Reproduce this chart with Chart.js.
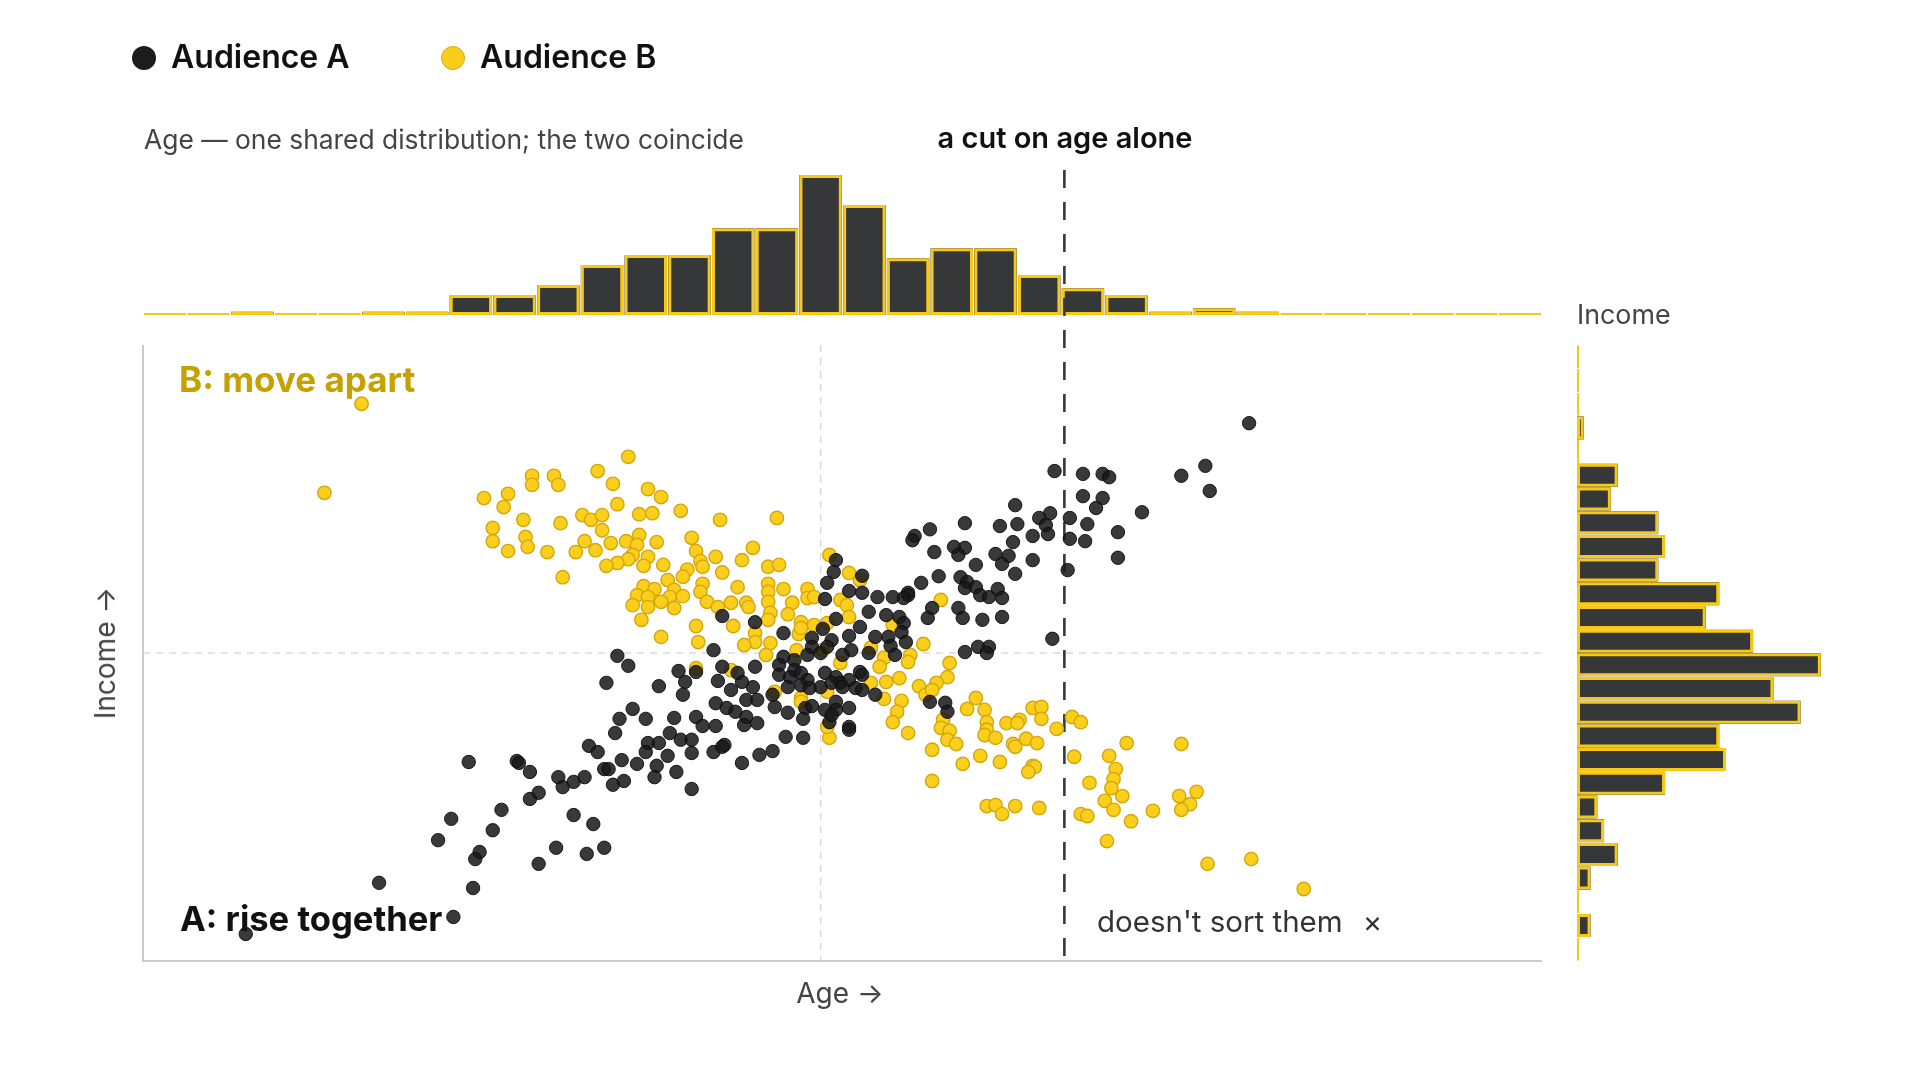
<!DOCTYPE html>
<html>
<head>
<meta charset="utf-8">
<title>Audience A vs B — age and income</title>
<script src="https://cdn.jsdelivr.net/npm/chart.js@4.4.1/dist/chart.umd.min.js"></script>
<style>
  html, body { margin: 0; padding: 0; background: #fff; }
  body { width: 1920px; height: 1080px; position: relative; overflow: hidden;
         font-family: Inter, "Noto Sans", sans-serif; }
  canvas { position: absolute; left: 0; top: 0; }
  .lbl { position: absolute; white-space: nowrap; line-height: 1; transform: translateY(-50%); }
  .dot { position: absolute; width: 24px; height: 24px; border-radius: 50%; transform: translate(-50%, -50%); box-sizing: border-box; }
</style>
</head>
<body>
<canvas id="topHist" width="1920" height="1080"></canvas>
<canvas id="rightHist" width="1920" height="1080"></canvas>
<canvas id="scatter" width="1920" height="1080"></canvas>

<!-- legend -->
<div class="dot" style="left:144px; top:58px; background:#1c1c1e;"></div>
<div class="lbl" style="left:171px; top:57px; font-size:32px; font-weight:600; color:#111;">Audience A</div>
<div class="dot" style="left:453px; top:58px; background:#fbcd1b; border:1.5px solid #d6a90c;"></div>
<div class="lbl" style="left:480px; top:57px; font-size:32px; font-weight:600; color:#111;">Audience B</div>

<!-- annotations -->
<div class="lbl" style="left:144px; top:139px; font-size:26.4px; color:#444;">Age — one shared distribution; the two coincide</div>
<div class="lbl" style="left:1065px; top:137px; font-size:29px; font-weight:600; color:#111; transform:translate(-50%,-50%);">a cut on age alone</div>
<div class="lbl" style="left:1577px; top:314px; font-size:26.8px; color:#444;">Income</div>
<div class="lbl" style="left:179px; top:379px; font-size:35px; font-weight:700; color:#c6a100;">B: move apart</div>
<div class="lbl" style="left:180px; top:918px; font-size:34.6px; font-weight:700; color:#111;">A: rise together</div>
<div class="lbl" style="left:1097px; top:922px; font-size:29.5px; color:#333;">doesn't sort them<span style="margin-left:20px;">×</span></div>
<div class="lbl" style="left:840px; top:993px; font-size:28px; color:#444; transform:translate(-50%,-50%);">Age →</div>
<div class="lbl" style="left:105px; top:653px; font-size:28px; color:#444; transform:translate(-50%,-50%) rotate(-90deg);">Income →</div>

<script>
// ============================================
// Data
// ============================================

// age histogram: bin starts (2-year bins) and counts; A and B coincide
const AGE_BIN_STARTS = [16, 18, 20, 22, 24, 26, 28, 30, 32, 34, 36, 38, 40, 42, 44, 46,
                        48, 50, 52, 54, 56, 58, 60, 62, 64, 66, 68, 70, 72, 74, 76, 78];
const AGE_COUNTS = [0, 0, 1, 0, 0, 1, 1, 6, 6, 9, 15, 18, 18, 26, 26, 42,
                    33, 17, 20, 20, 12, 8, 6, 1, 2, 1, 0, 0, 0, 0, 0, 0];

// income histogram: bin starts (5k bins), listed top (high) to bottom (low)
const INCOME_BIN_STARTS = [145, 140, 135, 130, 125, 120, 115, 110, 105, 100, 95, 90, 85,
                           80, 75, 70, 65, 60, 55, 50, 45, 40, 35, 30, 25, 20];
const INCOME_COUNTS = [0, 0, 0, 1, 0, 6, 5, 12, 13, 12, 21, 19, 26,
                       36, 29, 33, 21, 22, 13, 3, 4, 6, 2, 0, 2, 0];

const AGE_MEAN = 47;
const INCOME_MEAN = 85;
const AGE_CUT = 58.15;

// [age, income] per person
const AUDIENCE_A = [
  [66.6,133.5],[64.6,124.5],[63.5,122.4],[64.8,119.2],[61.7,114.7],[57.7,123.4],[59.0,122.8],[59.9,122.8],
  [60.2,122.1],[59.0,118.1],[59.9,117.7],[59.6,115.6],[55.9,116.2],[57.5,114.5],[57.0,113.5],[57.3,112.0],
  [58.4,113.5],[59.2,112.2],[60.6,110.5],[58.4,109.1],[59.1,108.6],[57.4,110.1],[56.7,109.7],[56.0,112.2],
  [55.2,111.8],[53.6,112.4],[52.0,111.1],[51.3,109.7],[52.2,106.3],[53.1,107.4],[53.6,107.2],[53.3,105.7],
  [55.8,108.4],[55.0,105.9],[55.6,105.5],[55.3,103.8],[54.1,103.6],[56.7,104.6],[55.9,101.7],[58.3,102.5],
  [60.6,105.1],[52.4,101.2],[51.6,99.8],[53.4,101.0],[53.7,100.0],[53.6,98.7],[54.1,98.9],[51.0,97.7],
  [54.3,97.2],[55.1,98.5],[55.3,96.6],[51.2,108.8],[54.7,96.8],[53.3,94.5],[53.5,92.4],[52.1,94.5],
  [51.9,92.4],[54.4,92.0],[55.3,92.6],[57.6,88.0],[53.6,85.2],[54.2,86.3],[54.7,86.3],[54.6,85.0],
  [51.0,97.2],[50.8,96.6],[50.3,96.8],[49.6,96.8],[49.2,93.7],[50.0,93.0],[50.6,92.6],[50.8,91.3],
  [50.7,89.4],[50.9,87.3],[50.1,88.4],[50.2,86.5],[50.4,84.6],[49.5,88.4],[49.2,85.0],[48.9,101.3],
  [47.7,104.6],[47.6,102.1],[47.3,99.8],[48.3,98.1],[48.9,97.7],[47.2,96.4],[47.7,92.2],[48.3,88.6],
  [48.8,90.5],[48.4,85.6],[48.0,84.6],[47.1,90.1],[46.6,88.2],[47.5,87.7],[45.3,89.2],[44.0,91.5],
  [45.3,84.2],[45.1,82.5],[45.8,83.5],[45.8,81.4],[46.4,84.6],[46.6,86.3],[47.0,85.0],[47.3,86.3],
  [44.0,82.1],[45.1,80.4],[45.6,79.9],[46.1,80.8],[46.4,79.3],[47.2,80.8],[47.7,79.9],[47.9,78.7],
  [48.3,79.3],[48.8,81.0],[48.9,80.4],[45.5,77.8],[46.1,78.2],[46.5,77.6],[47.0,77.8],[47.5,78.7],
  [48.0,77.8],[48.6,77.6],[48.9,77.2],[49.5,76.2],[43.9,77.8],[43.4,78.9],[44.8,76.2],[43.6,75.1],
  [44.1,75.1],[44.9,73.6],[45.5,72.4],[46.3,73.4],[46.6,73.8],[47.2,73.0],[47.7,74.7],[47.7,73.0],
  [48.3,73.4],[46.2,71.1],[47.4,70.4],[47.5,71.9],[48.3,69.4],[45.4,67.3],[46.2,67.1],[43.6,71.5],
  [44.1,70.2],[43.5,69.8],[44.2,63.5],[44.8,64.3],[43.4,61.8],[52.0,74.7],[52.7,74.5],[52.8,72.6],
  [48.3,68.8],[42.5,92.8],[37.7,84.4],[42.1,85.6],[38.2,82.3],[37.2,78.7],[39.6,78.0],[40.5,81.2],
  [40.8,78.9],[40.7,76.2],[41.3,81.0],[42.5,82.1],[43.2,80.8],[42.3,79.1],[42.9,77.2],
  [20.7,25.7],[30.2,29.3],[26.8,36.5],[31.1,35.4],[29.5,45.5],[30.1,50.0],[30.9,62.0],[31.4,43.0],
  [31.2,41.5],[32.0,47.6],[32.4,51.9],[34.1,40.5],[34.9,43.9],[36.3,42.6],[37.1,43.9],[35.7,50.8],
  [36.6,48.9],[33.7,54.2],[34.1,55.5],[33.1,62.2],[33.2,61.8],[33.7,59.9],[35.0,58.8],[35.2,56.7],
  [35.7,57.8],[36.2,58.8],[36.4,65.4],[36.8,64.1],[37.1,60.5],[37.3,60.5],[37.5,57.2],[38.0,58.0],
  [37.9,62.4],[38.6,61.6],[37.6,68.1],[37.8,71.1],[38.4,73.2],[39.0,71.1],[40.3,71.3],[40.1,68.1],
  [39.1,66.0],[39.6,66.0],[39.0,64.1],[40.0,63.3],[39.5,61.2],[39.4,58.8],[40.4,59.9],[40.6,66.7],
  [41.1,66.7],[41.1,63.9],[41.1,56.3],[41.3,71.5],[41.6,69.6],[42.2,69.6],[42.1,64.1],[42.6,65.6],
  [42.5,65.2],[42.2,74.4],[42.7,73.4],[43.1,72.6]
];

const AUDIENCE_B = [
  [26.0,137.6],[24.3,118.8],[31.6,117.7],[32.7,118.6],[32.5,115.8],[33.8,122.4],[33.8,120.5],[34.8,122.4],
  [35.0,120.5],[36.8,123.4],[38.2,126.4],[37.5,120.7],[39.1,119.6],[39.7,117.9],[33.4,113.1],[32.0,111.4],
  [32.0,108.6],[33.5,109.5],[33.6,107.4],[32.7,106.5],[34.5,106.3],[35.1,112.4],[36.1,114.1],[36.5,113.1],
  [37.0,114.1],[37.7,116.4],[37.0,110.9],[36.2,108.6],[36.7,106.7],[35.8,106.3],[37.4,108.2],[35.2,101.0],
  [38.7,114.3],[39.3,114.5],[40.6,115.0],[42.4,113.1],[45.0,113.5],[38.7,109.9],[38.1,108.6],[38.6,107.8],
  [39.5,108.4],[38.4,105.7],[39.1,105.3],[38.2,104.8],[37.7,104.0],[37.2,103.4],[38.9,103.4],[39.8,103.6],
  [41.1,109.3],[41.3,106.5],[41.5,104.4],[41.6,103.2],[42.2,105.3],[43.4,104.6],[43.9,107.2],[40.9,102.6],
  [40.7,101.1],[40.0,100.4],[42.5,102.0],[44.6,103.2],[45.1,103.6],[38.9,99.1],[39.4,98.5],[38.6,97.2],
  [39.1,96.8],[40.3,98.3],[40.1,96.8],[40.7,97.0],[39.7,95.8],[38.4,95.1],[39.1,94.7],[40.3,94.5],
  [41.6,99.6],[41.5,97.9],[41.8,95.8],[42.3,94.7],[42.9,95.6],[43.2,98.9],[43.6,95.6],[43.7,94.7],
  [38.8,92.0],[39.7,88.4],[41.3,90.7],[41.4,87.3],[43.0,90.7],[44.6,99.6],[44.6,97.9],[44.6,95.8],
  [44.7,93.5],[44.6,92.0],[45.3,98.5],[45.7,95.6],[45.5,93.2],[46.4,98.5],[46.4,96.6],[46.1,91.5],
  [46.0,89.0],[44.0,89.2],[44.0,87.3],[43.5,86.7],[44.7,87.1],[44.5,84.6],[41.3,81.8],[42.9,81.4],
  [44.9,76.8],[46.1,75.5],[47.4,105.7],[48.3,101.9],[48.8,100.4],[47.9,96.2],[48.2,95.1],[48.3,92.6],
  [47.3,91.3],[46.7,96.8],[46.7,90.9],[46.1,90.3],[52.5,96.2],[51.7,86.9],[50.3,90.9],[49.3,86.1],
  [49.9,84.0],[51.1,84.6],[51.0,83.1],[49.7,82.1],[52.9,82.9],[52.8,79.9],[52.3,78.7],[51.5,78.0],
  [51.8,76.2],[52.1,77.2],[50.6,79.7],[50.0,78.9],[49.3,78.7],[49.9,75.3],[50.7,74.9],[50.5,72.6],
  [50.3,70.4],[51.0,68.1],[52.6,70.9],[52.5,69.2],[52.9,68.6],[52.8,66.7],[53.2,65.8],[52.1,64.6],
  [53.5,61.6],[54.3,63.3],[55.2,62.0],[54.1,75.5],[53.7,73.2],[54.5,73.0],[54.6,70.4],[54.6,68.8],
  [54.5,67.7],[55.0,67.1],[55.5,70.2],[56.1,70.9],[56.0,70.2],[56.7,73.4],[57.1,73.6],[57.1,71.1],
  [56.4,66.9],[56.9,66.0],[55.8,65.8],[55.9,65.2],[57.8,69.0],[58.5,71.5],[58.6,63.1],[56.7,61.2],
  [47.4,67.1],[47.3,69.4],[46.1,74.7],[47.3,76.8],[47.9,82.9],[47.1,85.6],[45.9,85.6],
  [58.9,70.4],[59.3,57.6],[60.2,63.3],[60.5,60.5],[60.4,58.4],[60.3,56.5],[60.0,53.8],[60.8,54.8],
  [60.4,51.9],[61.0,66.0],[58.9,51.0],[59.2,50.6],[61.2,49.5],[62.2,51.7],[60.1,45.3],[63.5,65.8],
  [63.4,54.8],[63.9,53.1],[64.2,55.7],[63.5,51.9],[64.7,40.5],[66.7,41.5],[69.1,35.2],
  [56.8,61.0],[56.5,59.9],[52.1,58.0],[54.6,52.7],[55.0,52.9],[55.3,51.0],[55.9,52.7],[57.0,52.3]
];

// ============================================
// Styling
// ============================================
const INK = '#353738';
const GOLD = '#f7c916';
const A_FILL = 'rgba(24, 24, 27, 0.86)';
const B_FILL = '#fccf1c';
const B_EDGE = '#d3a70b';

const base = {
  responsive: false,
  animation: false,
  devicePixelRatio: 1,
  events: [],
  plugins: { legend: { display: false }, tooltip: { enabled: false } }
};

// B's outline sits first so it is painted over A's fill
function histDatasets(counts) {
  return [
    { label: 'Audience B', data: counts, backgroundColor: 'rgba(0,0,0,0)', borderColor: GOLD,
      borderWidth: 3, borderSkipped: false, minBarLength: 2,
      grouped: false, categoryPercentage: 1, barPercentage: 0.97 },
    { label: 'Audience A', data: counts, backgroundColor: INK, borderWidth: 0,
      grouped: false, categoryPercentage: 1, barPercentage: 0.97 }
  ];
}

// 1. Top: age histogram
new Chart(document.getElementById('topHist'), {
  type: 'bar',
  data: { labels: AGE_BIN_STARTS, datasets: histDatasets(AGE_COUNTS) },
  options: {
    ...base,
    layout: { padding: { left: 143, right: 378, top: 160, bottom: 765 }, autoPadding: false },
    scales: {
      x: { display: false },
      y: { display: false, min: 0, max: 46.5 }
    }
  }
});

// 2. Right: income histogram (horizontal)
new Chart(document.getElementById('rightHist'), {
  type: 'bar',
  data: { labels: INCOME_BIN_STARTS, datasets: histDatasets(INCOME_COUNTS) },
  options: {
    ...base,
    indexAxis: 'y',
    layout: { padding: { left: 1577, right: 49, top: 345, bottom: 119 }, autoPadding: false },
    scales: {
      x: { display: false, min: 0, max: 43.4 },
      y: { display: false }
    }
  }
});

// 3. Main scatter with axis lines, mean guides and the age cut
const guides = {
  id: 'guides',
  beforeDatasetsDraw(chart) {
    const { ctx, chartArea: a, scales: { x, y } } = chart;
    ctx.save();

    // axis lines
    ctx.strokeStyle = '#cacaca';
    ctx.lineWidth = 2;
    ctx.beginPath();
    ctx.moveTo(a.left, a.top);
    ctx.lineTo(a.left, a.bottom);
    ctx.lineTo(a.right, a.bottom);
    ctx.stroke();

    // mean lines
    const mx = x.getPixelForValue(AGE_MEAN);
    const my = y.getPixelForValue(INCOME_MEAN);
    ctx.strokeStyle = '#dadada';
    ctx.lineWidth = 1.5;
    ctx.setLineDash([7, 6]);
    ctx.beginPath();
    ctx.moveTo(a.left, my); ctx.lineTo(a.right, my);
    ctx.moveTo(mx, a.top); ctx.lineTo(mx, a.bottom);
    ctx.stroke();

    // cut on age, running up through the top histogram
    const cx = x.getPixelForValue(AGE_CUT);
    ctx.strokeStyle = '#383838';
    ctx.lineWidth = 2.6;
    ctx.setLineDash([18, 14]);
    ctx.beginPath();
    ctx.moveTo(cx, 170); ctx.lineTo(cx, a.bottom);
    ctx.stroke();

    ctx.restore();
  }
};

const toXY = pts => pts.map(([age, income]) => ({ x: age, y: income }));

new Chart(document.getElementById('scatter'), {
  type: 'scatter',
  data: {
    datasets: [
      { label: 'Audience A', data: toXY(AUDIENCE_A), backgroundColor: A_FILL,
        borderColor: 'rgba(12,12,14,0.9)', borderWidth: 1, pointRadius: 6.7 },
      { label: 'Audience B', data: toXY(AUDIENCE_B), backgroundColor: B_FILL,
        borderColor: B_EDGE, borderWidth: 1.4, pointRadius: 6.7 }
    ]
  },
  options: {
    ...base,
    layout: { padding: { left: 143, right: 378, top: 345, bottom: 119 }, autoPadding: false },
    scales: {
      x: { type: 'linear', display: false, min: 16, max: 80 },
      y: { type: 'linear', display: false, min: 20, max: 150 }
    }
  },
  plugins: [guides]
});
</script>
</body>
</html>
